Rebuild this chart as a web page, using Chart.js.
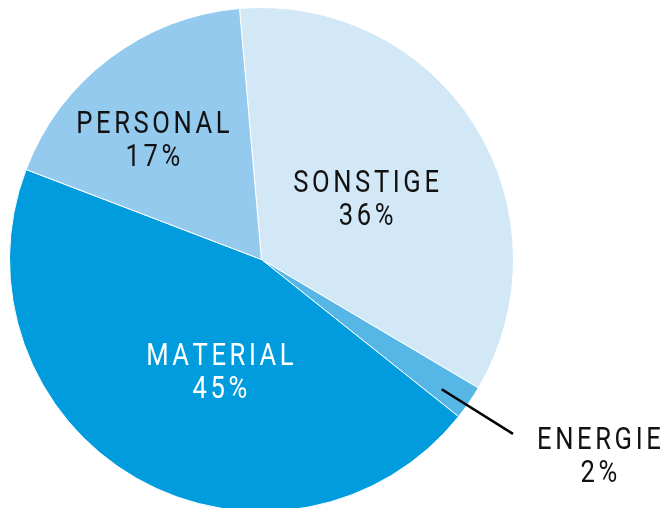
<!DOCTYPE html>
<html>
<head>
<meta charset="utf-8">
<script src="https://cdn.jsdelivr.net/npm/chart.js@4/dist/chart.umd.min.js"></script>
<style>
  html, body { margin: 0; padding: 0; background: #fff; overflow: hidden; }
  #wrap { width: 662px; height: 512px; position: relative; }
</style>
</head>
<body>
<div id="wrap"><canvas id="chart"></canvas></div>
<script>
// Data (clockwise, starting near 12 o'clock)
const categories = ['SONSTIGE', 'ENERGIE', 'MATERIAL', 'PERSONAL'];
const shares = [34.9, 2.2, 45.1, 17.8];
const percentLabels = ['36%', '2%', '45%', '17%'];
const sliceColors = ['#d3e8f7', '#56b7e7', '#009cde', '#93caee'];
const textColors = ['#111', '#111', '#fff', '#111'];

// label anchors relative to pie centre, in units of the radius (first-line baseline)
const labelAnchors = [
  { dx: 0.415, dy: -0.268 },
  { dx: 1.339, dy: 0.752 },
  { dx: -0.165, dy: 0.419 },
  { dx: -0.431, dy: -0.502 }
];
// leader line for the small slice
const leader = { from: { dx: 0.715, dy: 0.515 }, to: { dx: 0.998, dy: 0.692 } };

const FONT_SIZE = 32;
const SCALE_X = 0.8;
const SPACING = 3.6;
const LINE_GAP = 33;

function drawSpaced(ctx, text, cx, baseline) {
  const chars = Array.from(text);
  const widths = chars.map(c => ctx.measureText(c).width * SCALE_X);
  const total = widths.reduce((a, b) => a + b, 0) + SPACING * (chars.length - 1);
  let x = cx - total / 2;
  chars.forEach((c, i) => {
    ctx.save();
    ctx.translate(x, baseline);
    ctx.scale(SCALE_X, 1);
    ctx.fillText(c, 0, 0);
    ctx.restore();
    x += widths[i] + SPACING;
  });
}

const sliceLabels = {
  id: 'sliceLabels',
  afterDatasetsDraw(chart) {
    const ctx = chart.ctx;
    const arcs = chart.getDatasetMeta(0).data;
    const cx = arcs[0].x, cy = arcs[0].y, r = arcs[0].outerRadius;
    ctx.save();
    // leader line
    ctx.strokeStyle = '#000';
    ctx.lineWidth = 2.5;
    ctx.beginPath();
    ctx.moveTo(cx + leader.from.dx * r, cy + leader.from.dy * r);
    ctx.lineTo(cx + leader.to.dx * r, cy + leader.to.dy * r);
    ctx.stroke();

    ctx.font = '400 ' + FONT_SIZE + 'px Roboto, "DejaVu Sans", sans-serif';
    ctx.textBaseline = 'alphabetic';
    ctx.textAlign = 'left';
    categories.forEach((name, i) => {
      const a = labelAnchors[i];
      const x = cx + a.dx * r;
      const y = cy + a.dy * r;
      ctx.fillStyle = textColors[i];
      drawSpaced(ctx, name, x, y);
      drawSpaced(ctx, percentLabels[i], x, y + LINE_GAP);
    });
    ctx.restore();
  }
};

new Chart(document.getElementById('chart'), {
  type: 'pie',
  data: {
    labels: categories,
    datasets: [{
      data: shares,
      backgroundColor: sliceColors,
      borderColor: '#ffffff',
      borderWidth: 1
    }]
  },
  options: {
    responsive: true,
    maintainAspectRatio: false,
    animation: false,
    events: [],
    rotation: -5,
    layout: { padding: { left: 9, right: 148, top: 7, bottom: 0 } },
    plugins: {
      legend: { display: false },
      tooltip: { enabled: false }
    }
  },
  plugins: [sliceLabels]
});
</script>
</body>
</html>
